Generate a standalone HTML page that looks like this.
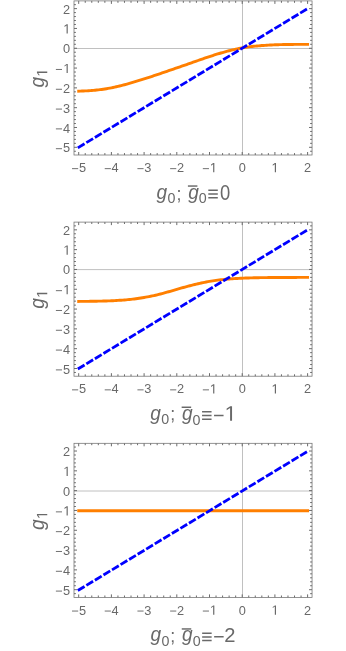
<!DOCTYPE html>
<html><head><meta charset="utf-8"><title>plots</title>
<style>
html,body{margin:0;padding:0;background:#fff;}
body{width:346px;height:651px;overflow:hidden;}
svg{display:block;will-change:transform;font-family:"Liberation Sans",sans-serif;}
</style></head><body>
<svg width="346" height="651" viewBox="0 0 346 651">
<rect width="346" height="651" fill="#fff"/>
<g transform="translate(0,0.00)">
<path d="M74.0,48.50H312.05M242.5,0.9V155.0" stroke="#c0c0c0" stroke-width="1.0" fill="none"/>
<g transform="translate(0,0)">
<path d="M78.70,91.17L80.33,91.12L81.97,91.07L83.60,91.00L85.24,90.92L86.87,90.84L88.51,90.74L90.14,90.63L91.78,90.50L93.41,90.37L95.05,90.21L96.68,90.05L98.32,89.86L99.95,89.67L101.59,89.45L103.22,89.22L104.86,88.98L106.49,88.71L108.13,88.43L109.76,88.13L111.40,87.82L113.03,87.49L114.67,87.14L116.30,86.78L117.94,86.40L119.57,86.01L121.21,85.60L122.84,85.18L124.48,84.75L126.11,84.31L127.75,83.86L129.38,83.40L131.02,82.93L132.65,82.45L134.29,81.97L135.92,81.48L137.56,80.98L139.19,80.48L140.83,79.97L142.46,79.45L144.10,78.94L145.73,78.41L147.37,77.89L149.00,77.36L150.64,76.82L152.27,76.28L153.91,75.74L155.54,75.19L157.18,74.64L158.81,74.09L160.45,73.54L162.08,72.98L163.72,72.42L165.35,71.86L166.99,71.30L168.62,70.73L170.26,70.17L171.89,69.61L173.53,69.04L175.16,68.47L176.80,67.91L178.44,67.34L180.07,66.77L181.70,66.21L183.34,65.64L184.97,65.07L186.61,64.51L188.25,63.94L189.88,63.37L191.51,62.80L193.15,62.23L194.78,61.65L196.42,61.08L198.06,60.50L199.69,59.93L201.32,59.36L202.96,58.80L204.59,58.23L206.23,57.68L207.87,57.12L209.50,56.58L211.13,56.04L212.77,55.51L214.41,54.99L216.04,54.48L217.67,53.98L219.31,53.49L220.94,53.00L222.58,52.53L224.22,52.07L225.85,51.62L227.48,51.18L229.12,50.75L230.75,50.34L232.39,49.94L234.02,49.55L235.66,49.18L237.30,48.83L238.93,48.49L240.56,48.16L242.20,47.86L243.84,47.57L245.47,47.31L247.10,47.07L248.74,46.84L250.38,46.64L252.01,46.45L253.65,46.28L255.28,46.12L256.92,45.97L258.55,45.83L260.19,45.69L261.82,45.56L263.45,45.44L265.09,45.33L266.72,45.22L268.36,45.12L270.00,45.03L271.63,44.94L273.26,44.87L274.90,44.80L276.54,44.74L278.17,44.69L279.81,44.64L281.44,44.61L283.07,44.57L284.71,44.54L286.35,44.51L287.98,44.49L289.62,44.47L291.25,44.45L292.88,44.43L294.52,44.42L296.16,44.40L297.79,44.39L299.43,44.38L301.06,44.37L302.69,44.36L304.33,44.36L305.97,44.35L307.60,44.35" stroke="#ff7f00" stroke-width="2.9" fill="none" stroke-linejoin="round" stroke-linecap="square"/>
<path d="M77.80,147.85L307.60,8.63" stroke="#0000ff" stroke-width="2.8" fill="none" stroke-dasharray="7.9 2.1"/></g>
<path d="M74.0,151.26h1.9M312.05,151.26h-1.9M74.0,147.30h3.0M312.05,147.30h-3.0M78.70,155.0v-3.0M78.70,0.9v3.0M74.0,143.34h1.9M312.05,143.34h-1.9M85.24,155.0v-1.9M85.24,0.9v1.9M74.0,139.38h1.9M312.05,139.38h-1.9M91.78,155.0v-1.9M91.78,0.9v1.9M74.0,135.41h1.9M312.05,135.41h-1.9M98.32,155.0v-1.9M98.32,0.9v1.9M74.0,131.45h1.9M312.05,131.45h-1.9M104.86,155.0v-1.9M104.86,0.9v1.9M74.0,127.49h3.0M312.05,127.49h-3.0M111.40,155.0v-3.0M111.40,0.9v3.0M74.0,123.53h1.9M312.05,123.53h-1.9M117.94,155.0v-1.9M117.94,0.9v1.9M74.0,119.57h1.9M312.05,119.57h-1.9M124.48,155.0v-1.9M124.48,0.9v1.9M74.0,115.60h1.9M312.05,115.60h-1.9M131.02,155.0v-1.9M131.02,0.9v1.9M74.0,111.64h1.9M312.05,111.64h-1.9M137.56,155.0v-1.9M137.56,0.9v1.9M74.0,107.68h3.0M312.05,107.68h-3.0M144.10,155.0v-3.0M144.10,0.9v3.0M74.0,103.72h1.9M312.05,103.72h-1.9M150.64,155.0v-1.9M150.64,0.9v1.9M74.0,99.76h1.9M312.05,99.76h-1.9M157.18,155.0v-1.9M157.18,0.9v1.9M74.0,95.79h1.9M312.05,95.79h-1.9M163.72,155.0v-1.9M163.72,0.9v1.9M74.0,91.83h1.9M312.05,91.83h-1.9M170.26,155.0v-1.9M170.26,0.9v1.9M74.0,87.87h3.0M312.05,87.87h-3.0M176.80,155.0v-3.0M176.80,0.9v3.0M74.0,83.91h1.9M312.05,83.91h-1.9M183.34,155.0v-1.9M183.34,0.9v1.9M74.0,79.95h1.9M312.05,79.95h-1.9M189.88,155.0v-1.9M189.88,0.9v1.9M74.0,75.98h1.9M312.05,75.98h-1.9M196.42,155.0v-1.9M196.42,0.9v1.9M74.0,72.02h1.9M312.05,72.02h-1.9M202.96,155.0v-1.9M202.96,0.9v1.9M74.0,68.06h3.0M312.05,68.06h-3.0M209.50,155.0v-3.0M209.50,0.9v3.0M74.0,64.10h1.9M312.05,64.10h-1.9M216.04,155.0v-1.9M216.04,0.9v1.9M74.0,60.14h1.9M312.05,60.14h-1.9M222.58,155.0v-1.9M222.58,0.9v1.9M74.0,56.17h1.9M312.05,56.17h-1.9M229.12,155.0v-1.9M229.12,0.9v1.9M74.0,52.21h1.9M312.05,52.21h-1.9M235.66,155.0v-1.9M235.66,0.9v1.9M74.0,48.25h3.0M312.05,48.25h-3.0M242.20,155.0v-3.0M242.20,0.9v3.0M74.0,44.29h1.9M312.05,44.29h-1.9M248.74,155.0v-1.9M248.74,0.9v1.9M74.0,40.33h1.9M312.05,40.33h-1.9M255.28,155.0v-1.9M255.28,0.9v1.9M74.0,36.36h1.9M312.05,36.36h-1.9M261.82,155.0v-1.9M261.82,0.9v1.9M74.0,32.40h1.9M312.05,32.40h-1.9M268.36,155.0v-1.9M268.36,0.9v1.9M74.0,28.44h3.0M312.05,28.44h-3.0M274.90,155.0v-3.0M274.90,0.9v3.0M74.0,24.48h1.9M312.05,24.48h-1.9M281.44,155.0v-1.9M281.44,0.9v1.9M74.0,20.52h1.9M312.05,20.52h-1.9M287.98,155.0v-1.9M287.98,0.9v1.9M74.0,16.55h1.9M312.05,16.55h-1.9M294.52,155.0v-1.9M294.52,0.9v1.9M74.0,12.59h1.9M312.05,12.59h-1.9M301.06,155.0v-1.9M301.06,0.9v1.9M74.0,8.63h3.0M312.05,8.63h-3.0M307.60,155.0v-3.0M307.60,0.9v3.0M74.0,4.67h1.9M312.05,4.67h-1.9" stroke="#5a5a5a" stroke-width="0.9" fill="none"/>
<rect x="74.0" y="0.9" width="238.05" height="154.10" fill="none" stroke="#707070" stroke-width="0.75"/>
<g font-size="12.75" fill="#696969">
<text x="70.2" y="152.35" text-anchor="end">5</text>
<text x="78.88" y="172.3">5</text>
<text x="70.2" y="132.54" text-anchor="end">4</text>
<text x="111.58" y="172.3">4</text>
<text x="70.2" y="112.73" text-anchor="end">3</text>
<text x="144.28" y="172.3">3</text>
<text x="70.2" y="92.92" text-anchor="end">2</text>
<text x="176.98" y="172.3">2</text>
<path d="M515 0V1237L197 1010V1180L530 1409H696V0Z" transform="translate(63.21,73.11) scale(0.00654,-0.00654)"/>
<path d="M515 0V1237L197 1010V1180L530 1409H696V0Z" transform="translate(209.78,172.30) scale(0.00654,-0.00654)"/>
<text x="70.2" y="53.30" text-anchor="end">0</text>
<text x="238.65" y="172.3">0</text>
<path d="M515 0V1237L197 1010V1180L530 1409H696V0Z" transform="translate(63.21,33.49) scale(0.00654,-0.00654)"/>
<path d="M515 0V1237L197 1010V1180L530 1409H696V0Z" transform="translate(271.45,172.30) scale(0.00654,-0.00654)"/>
<text x="70.2" y="13.68" text-anchor="end">2</text>
<text x="304.05" y="172.3">2</text>
<path d="M55.9,148.70H62.0M72.03,168.65H78.18M55.9,128.89H62.0M104.73,168.65H110.88M55.9,109.08H62.0M137.43,168.65H143.58M55.9,89.27H62.0M170.13,168.65H176.28M55.9,69.46H62.0M202.83,168.65H208.98" stroke="#696969" stroke-width="0.95" fill="none"/>
</g>
<g fill="#696969" transform="translate(0,87.6) rotate(-90)"><text transform="translate(0,43.95) scale(0.98,1)" font-size="19.5" font-style="italic">g</text><path d="M515 0V1237L197 1010V1180L530 1409H696V0Z" transform="translate(10.90,47.25) scale(0.00732,-0.00732)"/></g>
<g fill="#696969" transform="translate(0,0)">
<text transform="translate(156.56,199.00) scale(0.98,1)" font-size="19.5" font-style="italic">g</text>
<text transform="translate(167.59,203.30) scale(0.92,1)" font-size="15.5">0</text>
<text transform="translate(176.50,199.65) scale(0.95,1)" font-size="18.7">;</text>
<text transform="translate(188.21,199.00) scale(0.98,1)" font-size="19.5" font-style="italic">g</text>
</g>
<g fill="#696969">
<text transform="translate(198.84,203.30) scale(0.92,1)" font-size="15.5">0</text>
<text transform="translate(220.03,199.95) scale(0.83,1)" font-size="22.2">0</text>
</g>
<path d="M187.90,186.05H197.40" stroke="#696969" stroke-width="1.45"/>
<path d="M208.30,190.30H217.80M208.30,194.00H217.80M208.30,197.70H217.80" stroke="#696969" stroke-width="1.5"/>
</g>
<g transform="translate(0,221.20)">
<path d="M74.0,48.40H312.05M242.5,0.9V155.0" stroke="#c0c0c0" stroke-width="1.0" fill="none"/>
<g transform="translate(0,0)">
<path d="M78.70,80.23L80.33,80.22L81.97,80.20L83.60,80.19L85.24,80.17L86.87,80.15L88.51,80.13L90.14,80.11L91.78,80.08L93.41,80.06L95.05,80.03L96.68,80.00L98.32,79.96L99.95,79.93L101.59,79.89L103.22,79.84L104.86,79.80L106.49,79.74L108.13,79.69L109.76,79.63L111.40,79.56L113.03,79.49L114.67,79.41L116.30,79.32L117.94,79.22L119.57,79.12L121.21,79.01L122.84,78.89L124.48,78.76L126.11,78.62L127.75,78.47L129.38,78.31L131.02,78.13L132.65,77.95L134.29,77.75L135.92,77.53L137.56,77.31L139.19,77.07L140.83,76.81L142.46,76.54L144.10,76.27L145.73,75.98L147.37,75.69L149.00,75.39L150.64,75.08L152.27,74.74L153.91,74.39L155.54,74.02L157.18,73.63L158.81,73.22L160.45,72.79L162.08,72.36L163.72,71.91L165.35,71.46L166.99,71.00L168.62,70.54L170.26,70.07L171.89,69.60L173.53,69.12L175.16,68.65L176.80,68.18L178.44,67.71L180.07,67.24L181.70,66.77L183.34,66.32L184.97,65.86L186.61,65.42L188.25,64.98L189.88,64.56L191.51,64.14L193.15,63.73L194.78,63.32L196.42,62.92L198.06,62.54L199.69,62.16L201.32,61.79L202.96,61.44L204.59,61.10L206.23,60.77L207.87,60.46L209.50,60.16L211.13,59.88L212.77,59.62L214.41,59.37L216.04,59.15L217.67,58.93L219.31,58.73L220.94,58.55L222.58,58.37L224.22,58.21L225.85,58.06L227.48,57.92L229.12,57.79L230.75,57.67L232.39,57.55L234.02,57.45L235.66,57.35L237.30,57.25L238.93,57.17L240.56,57.09L242.20,57.01L243.84,56.94L245.47,56.87L247.10,56.81L248.74,56.75L250.38,56.70L252.01,56.65L253.65,56.60L255.28,56.56L256.92,56.53L258.55,56.50L260.19,56.47L261.82,56.45L263.45,56.43L265.09,56.41L266.72,56.39L268.36,56.37L270.00,56.36L271.63,56.34L273.26,56.33L274.90,56.32L276.54,56.31L278.17,56.30L279.81,56.29L281.44,56.28L283.07,56.27L284.71,56.26L286.35,56.26L287.98,56.25L289.62,56.25L291.25,56.24L292.88,56.24L294.52,56.23L296.16,56.23L297.79,56.22L299.43,56.22L301.06,56.22L302.69,56.22L304.33,56.21L305.97,56.21L307.60,56.21" stroke="#ff7f00" stroke-width="2.9" fill="none" stroke-linejoin="round" stroke-linecap="square"/>
<path d="M77.80,147.85L307.60,8.63" stroke="#0000ff" stroke-width="2.8" fill="none" stroke-dasharray="7.9 2.1"/></g>
<path d="M74.0,151.26h1.9M312.05,151.26h-1.9M74.0,147.30h3.0M312.05,147.30h-3.0M78.70,155.0v-3.0M78.70,0.9v3.0M74.0,143.34h1.9M312.05,143.34h-1.9M85.24,155.0v-1.9M85.24,0.9v1.9M74.0,139.38h1.9M312.05,139.38h-1.9M91.78,155.0v-1.9M91.78,0.9v1.9M74.0,135.41h1.9M312.05,135.41h-1.9M98.32,155.0v-1.9M98.32,0.9v1.9M74.0,131.45h1.9M312.05,131.45h-1.9M104.86,155.0v-1.9M104.86,0.9v1.9M74.0,127.49h3.0M312.05,127.49h-3.0M111.40,155.0v-3.0M111.40,0.9v3.0M74.0,123.53h1.9M312.05,123.53h-1.9M117.94,155.0v-1.9M117.94,0.9v1.9M74.0,119.57h1.9M312.05,119.57h-1.9M124.48,155.0v-1.9M124.48,0.9v1.9M74.0,115.60h1.9M312.05,115.60h-1.9M131.02,155.0v-1.9M131.02,0.9v1.9M74.0,111.64h1.9M312.05,111.64h-1.9M137.56,155.0v-1.9M137.56,0.9v1.9M74.0,107.68h3.0M312.05,107.68h-3.0M144.10,155.0v-3.0M144.10,0.9v3.0M74.0,103.72h1.9M312.05,103.72h-1.9M150.64,155.0v-1.9M150.64,0.9v1.9M74.0,99.76h1.9M312.05,99.76h-1.9M157.18,155.0v-1.9M157.18,0.9v1.9M74.0,95.79h1.9M312.05,95.79h-1.9M163.72,155.0v-1.9M163.72,0.9v1.9M74.0,91.83h1.9M312.05,91.83h-1.9M170.26,155.0v-1.9M170.26,0.9v1.9M74.0,87.87h3.0M312.05,87.87h-3.0M176.80,155.0v-3.0M176.80,0.9v3.0M74.0,83.91h1.9M312.05,83.91h-1.9M183.34,155.0v-1.9M183.34,0.9v1.9M74.0,79.95h1.9M312.05,79.95h-1.9M189.88,155.0v-1.9M189.88,0.9v1.9M74.0,75.98h1.9M312.05,75.98h-1.9M196.42,155.0v-1.9M196.42,0.9v1.9M74.0,72.02h1.9M312.05,72.02h-1.9M202.96,155.0v-1.9M202.96,0.9v1.9M74.0,68.06h3.0M312.05,68.06h-3.0M209.50,155.0v-3.0M209.50,0.9v3.0M74.0,64.10h1.9M312.05,64.10h-1.9M216.04,155.0v-1.9M216.04,0.9v1.9M74.0,60.14h1.9M312.05,60.14h-1.9M222.58,155.0v-1.9M222.58,0.9v1.9M74.0,56.17h1.9M312.05,56.17h-1.9M229.12,155.0v-1.9M229.12,0.9v1.9M74.0,52.21h1.9M312.05,52.21h-1.9M235.66,155.0v-1.9M235.66,0.9v1.9M74.0,48.25h3.0M312.05,48.25h-3.0M242.20,155.0v-3.0M242.20,0.9v3.0M74.0,44.29h1.9M312.05,44.29h-1.9M248.74,155.0v-1.9M248.74,0.9v1.9M74.0,40.33h1.9M312.05,40.33h-1.9M255.28,155.0v-1.9M255.28,0.9v1.9M74.0,36.36h1.9M312.05,36.36h-1.9M261.82,155.0v-1.9M261.82,0.9v1.9M74.0,32.40h1.9M312.05,32.40h-1.9M268.36,155.0v-1.9M268.36,0.9v1.9M74.0,28.44h3.0M312.05,28.44h-3.0M274.90,155.0v-3.0M274.90,0.9v3.0M74.0,24.48h1.9M312.05,24.48h-1.9M281.44,155.0v-1.9M281.44,0.9v1.9M74.0,20.52h1.9M312.05,20.52h-1.9M287.98,155.0v-1.9M287.98,0.9v1.9M74.0,16.55h1.9M312.05,16.55h-1.9M294.52,155.0v-1.9M294.52,0.9v1.9M74.0,12.59h1.9M312.05,12.59h-1.9M301.06,155.0v-1.9M301.06,0.9v1.9M74.0,8.63h3.0M312.05,8.63h-3.0M307.60,155.0v-3.0M307.60,0.9v3.0M74.0,4.67h1.9M312.05,4.67h-1.9" stroke="#5a5a5a" stroke-width="0.9" fill="none"/>
<rect x="74.0" y="0.9" width="238.05" height="154.10" fill="none" stroke="#707070" stroke-width="0.75"/>
<g font-size="12.75" fill="#696969">
<text x="70.2" y="152.35" text-anchor="end">5</text>
<text x="78.88" y="172.3">5</text>
<text x="70.2" y="132.54" text-anchor="end">4</text>
<text x="111.58" y="172.3">4</text>
<text x="70.2" y="112.73" text-anchor="end">3</text>
<text x="144.28" y="172.3">3</text>
<text x="70.2" y="92.92" text-anchor="end">2</text>
<text x="176.98" y="172.3">2</text>
<path d="M515 0V1237L197 1010V1180L530 1409H696V0Z" transform="translate(63.21,73.11) scale(0.00654,-0.00654)"/>
<path d="M515 0V1237L197 1010V1180L530 1409H696V0Z" transform="translate(209.78,172.30) scale(0.00654,-0.00654)"/>
<text x="70.2" y="53.30" text-anchor="end">0</text>
<text x="238.65" y="172.3">0</text>
<path d="M515 0V1237L197 1010V1180L530 1409H696V0Z" transform="translate(63.21,33.49) scale(0.00654,-0.00654)"/>
<path d="M515 0V1237L197 1010V1180L530 1409H696V0Z" transform="translate(271.45,172.30) scale(0.00654,-0.00654)"/>
<text x="70.2" y="13.68" text-anchor="end">2</text>
<text x="304.05" y="172.3">2</text>
<path d="M55.9,148.70H62.0M72.03,168.65H78.18M55.9,128.89H62.0M104.73,168.65H110.88M55.9,109.08H62.0M137.43,168.65H143.58M55.9,89.27H62.0M170.13,168.65H176.28M55.9,69.46H62.0M202.83,168.65H208.98" stroke="#696969" stroke-width="0.95" fill="none"/>
</g>
<g fill="#696969" transform="translate(0,87.6) rotate(-90)"><text transform="translate(0,43.95) scale(0.98,1)" font-size="19.5" font-style="italic">g</text><path d="M515 0V1237L197 1010V1180L530 1409H696V0Z" transform="translate(10.90,47.25) scale(0.00732,-0.00732)"/></g>
<g fill="#696969" transform="translate(0,-0.6)">
<text transform="translate(150.31,199.00) scale(0.98,1)" font-size="19.5" font-style="italic">g</text>
<text transform="translate(161.34,203.30) scale(0.92,1)" font-size="15.5">0</text>
<text transform="translate(170.25,199.65) scale(0.95,1)" font-size="18.7">;</text>
<text transform="translate(181.96,199.00) scale(0.98,1)" font-size="19.5" font-style="italic">g</text>
</g>
<g fill="#696969">
<text transform="translate(192.59,203.60) scale(0.92,1)" font-size="15.5">0</text>
<path d="M515 0V1237L197 1010V1180L530 1409H696V0Z" transform="translate(224.52,199.45) scale(0.01082,-0.01030)"/>
</g>
<path d="M181.65,186.05H191.15" stroke="#696969" stroke-width="1.45"/>
<path d="M202.05,190.60H211.55M202.05,194.30H211.55M202.05,198.00H211.55M214.05,194.25H223.55" stroke="#696969" stroke-width="1.5"/>
</g>
<g transform="translate(0,442.40)">
<path d="M74.0,48.60H312.05M242.5,0.9V155.0" stroke="#c0c0c0" stroke-width="1.0" fill="none"/>
<g transform="translate(0,0.3)">
<path d="M78.70,68.06L307.60,68.06" stroke="#ff7f00" stroke-width="2.9" fill="none" stroke-linejoin="round" stroke-linecap="square"/>
<path d="M77.80,147.85L307.60,8.63" stroke="#0000ff" stroke-width="2.8" fill="none" stroke-dasharray="7.9 2.1"/></g>
<path d="M74.0,151.26h1.9M312.05,151.26h-1.9M74.0,147.30h3.0M312.05,147.30h-3.0M78.70,155.0v-3.0M78.70,0.9v3.0M74.0,143.34h1.9M312.05,143.34h-1.9M85.24,155.0v-1.9M85.24,0.9v1.9M74.0,139.38h1.9M312.05,139.38h-1.9M91.78,155.0v-1.9M91.78,0.9v1.9M74.0,135.41h1.9M312.05,135.41h-1.9M98.32,155.0v-1.9M98.32,0.9v1.9M74.0,131.45h1.9M312.05,131.45h-1.9M104.86,155.0v-1.9M104.86,0.9v1.9M74.0,127.49h3.0M312.05,127.49h-3.0M111.40,155.0v-3.0M111.40,0.9v3.0M74.0,123.53h1.9M312.05,123.53h-1.9M117.94,155.0v-1.9M117.94,0.9v1.9M74.0,119.57h1.9M312.05,119.57h-1.9M124.48,155.0v-1.9M124.48,0.9v1.9M74.0,115.60h1.9M312.05,115.60h-1.9M131.02,155.0v-1.9M131.02,0.9v1.9M74.0,111.64h1.9M312.05,111.64h-1.9M137.56,155.0v-1.9M137.56,0.9v1.9M74.0,107.68h3.0M312.05,107.68h-3.0M144.10,155.0v-3.0M144.10,0.9v3.0M74.0,103.72h1.9M312.05,103.72h-1.9M150.64,155.0v-1.9M150.64,0.9v1.9M74.0,99.76h1.9M312.05,99.76h-1.9M157.18,155.0v-1.9M157.18,0.9v1.9M74.0,95.79h1.9M312.05,95.79h-1.9M163.72,155.0v-1.9M163.72,0.9v1.9M74.0,91.83h1.9M312.05,91.83h-1.9M170.26,155.0v-1.9M170.26,0.9v1.9M74.0,87.87h3.0M312.05,87.87h-3.0M176.80,155.0v-3.0M176.80,0.9v3.0M74.0,83.91h1.9M312.05,83.91h-1.9M183.34,155.0v-1.9M183.34,0.9v1.9M74.0,79.95h1.9M312.05,79.95h-1.9M189.88,155.0v-1.9M189.88,0.9v1.9M74.0,75.98h1.9M312.05,75.98h-1.9M196.42,155.0v-1.9M196.42,0.9v1.9M74.0,72.02h1.9M312.05,72.02h-1.9M202.96,155.0v-1.9M202.96,0.9v1.9M74.0,68.06h3.0M312.05,68.06h-3.0M209.50,155.0v-3.0M209.50,0.9v3.0M74.0,64.10h1.9M312.05,64.10h-1.9M216.04,155.0v-1.9M216.04,0.9v1.9M74.0,60.14h1.9M312.05,60.14h-1.9M222.58,155.0v-1.9M222.58,0.9v1.9M74.0,56.17h1.9M312.05,56.17h-1.9M229.12,155.0v-1.9M229.12,0.9v1.9M74.0,52.21h1.9M312.05,52.21h-1.9M235.66,155.0v-1.9M235.66,0.9v1.9M74.0,48.25h3.0M312.05,48.25h-3.0M242.20,155.0v-3.0M242.20,0.9v3.0M74.0,44.29h1.9M312.05,44.29h-1.9M248.74,155.0v-1.9M248.74,0.9v1.9M74.0,40.33h1.9M312.05,40.33h-1.9M255.28,155.0v-1.9M255.28,0.9v1.9M74.0,36.36h1.9M312.05,36.36h-1.9M261.82,155.0v-1.9M261.82,0.9v1.9M74.0,32.40h1.9M312.05,32.40h-1.9M268.36,155.0v-1.9M268.36,0.9v1.9M74.0,28.44h3.0M312.05,28.44h-3.0M274.90,155.0v-3.0M274.90,0.9v3.0M74.0,24.48h1.9M312.05,24.48h-1.9M281.44,155.0v-1.9M281.44,0.9v1.9M74.0,20.52h1.9M312.05,20.52h-1.9M287.98,155.0v-1.9M287.98,0.9v1.9M74.0,16.55h1.9M312.05,16.55h-1.9M294.52,155.0v-1.9M294.52,0.9v1.9M74.0,12.59h1.9M312.05,12.59h-1.9M301.06,155.0v-1.9M301.06,0.9v1.9M74.0,8.63h3.0M312.05,8.63h-3.0M307.60,155.0v-3.0M307.60,0.9v3.0M74.0,4.67h1.9M312.05,4.67h-1.9" stroke="#5a5a5a" stroke-width="0.9" fill="none"/>
<rect x="74.0" y="0.9" width="238.05" height="154.10" fill="none" stroke="#707070" stroke-width="0.75"/>
<g font-size="12.75" fill="#696969">
<text x="70.2" y="152.35" text-anchor="end">5</text>
<text x="78.88" y="172.3">5</text>
<text x="70.2" y="132.54" text-anchor="end">4</text>
<text x="111.58" y="172.3">4</text>
<text x="70.2" y="112.73" text-anchor="end">3</text>
<text x="144.28" y="172.3">3</text>
<text x="70.2" y="92.92" text-anchor="end">2</text>
<text x="176.98" y="172.3">2</text>
<path d="M515 0V1237L197 1010V1180L530 1409H696V0Z" transform="translate(63.21,73.11) scale(0.00654,-0.00654)"/>
<path d="M515 0V1237L197 1010V1180L530 1409H696V0Z" transform="translate(209.78,172.30) scale(0.00654,-0.00654)"/>
<text x="70.2" y="53.30" text-anchor="end">0</text>
<text x="238.65" y="172.3">0</text>
<path d="M515 0V1237L197 1010V1180L530 1409H696V0Z" transform="translate(63.21,33.49) scale(0.00654,-0.00654)"/>
<path d="M515 0V1237L197 1010V1180L530 1409H696V0Z" transform="translate(271.45,172.30) scale(0.00654,-0.00654)"/>
<text x="70.2" y="13.68" text-anchor="end">2</text>
<text x="304.05" y="172.3">2</text>
<path d="M55.9,148.70H62.0M72.03,168.65H78.18M55.9,128.89H62.0M104.73,168.65H110.88M55.9,109.08H62.0M137.43,168.65H143.58M55.9,89.27H62.0M170.13,168.65H176.28M55.9,69.46H62.0M202.83,168.65H208.98" stroke="#696969" stroke-width="0.95" fill="none"/>
</g>
<g fill="#696969" transform="translate(0,87.6) rotate(-90)"><text transform="translate(0,43.95) scale(0.98,1)" font-size="19.5" font-style="italic">g</text><path d="M515 0V1237L197 1010V1180L530 1409H696V0Z" transform="translate(10.90,47.25) scale(0.00732,-0.00732)"/></g>
<g fill="#696969" transform="translate(0,-0.2)">
<text transform="translate(150.41,199.00) scale(0.98,1)" font-size="19.5" font-style="italic">g</text>
<text transform="translate(161.44,203.30) scale(0.92,1)" font-size="15.5">0</text>
<text transform="translate(170.35,199.65) scale(0.95,1)" font-size="18.7">;</text>
<text transform="translate(182.06,199.00) scale(0.98,1)" font-size="19.5" font-style="italic">g</text>
</g>
<g fill="#696969">
<text transform="translate(192.69,203.80) scale(0.92,1)" font-size="15.5">0</text>
<text transform="translate(224.19,199.95) scale(0.97,1)" font-size="20.8">2</text>
</g>
<path d="M181.75,186.55H191.25" stroke="#696969" stroke-width="1.45"/>
<path d="M202.15,190.80H211.65M202.15,194.50H211.65M202.15,198.20H211.65M214.15,194.45H223.65" stroke="#696969" stroke-width="1.5"/>
</g>
</svg>
</body></html>
